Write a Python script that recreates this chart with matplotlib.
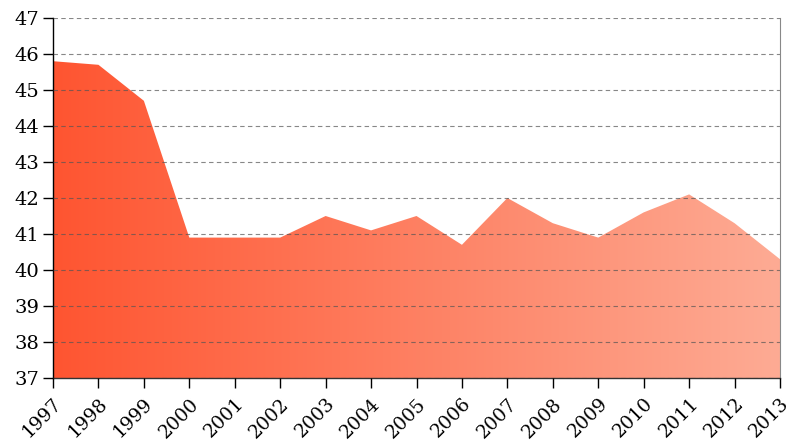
import matplotlib
matplotlib.use("Agg")
import matplotlib.pyplot as plt
import numpy as np
from matplotlib.colors import LinearSegmentedColormap

years = [1997, 1998, 1999, 2000, 2001, 2002, 2003, 2004, 2005,
         2006, 2007, 2008, 2009, 2010, 2011, 2012, 2013]
values = [45.8, 45.7, 44.7, 40.9, 40.9, 40.9, 41.5, 41.1, 41.5,
          40.7, 42.0, 41.3, 40.9, 41.6, 42.1, 41.3, 40.3]
y_ticks = list(range(37, 48))

plt.rcParams['font.family'] = ['DejaVu Serif']

fig = plt.figure(figsize=(7.86, 4.48), dpi=100)
ax = fig.add_axes([53 / 786, 70 / 448, 727 / 786, 360 / 448])

ymin, ymax = 37, 47
poly = ax.fill_between(years, values, ymin, color='none', lw=0)

cmap = LinearSegmentedColormap.from_list('grad', ['#ff5531', '#fdab94'])
grad = np.linspace(0, 1, 256).reshape(1, -1)
img = ax.imshow(grad, cmap=cmap, aspect='auto',
                extent=[years[0], years[-1], ymin, ymax], zorder=1)
path = poly.get_paths()[0]
img.set_clip_path(path, transform=ax.transData)

ax.set_xlim(years[0], years[-1])
ax.set_ylim(ymin, ymax)
ax.set_yticks(y_ticks)
ax.set_xticks(years)
ax.set_xticklabels([str(y) for y in years], rotation=45, ha='right',
                   rotation_mode='anchor')
ax.yaxis.grid(True, linestyle=(0, (4, 3)), color='#555555', lw=0.8, alpha=0.7)
ax.set_axisbelow(False)
for gl in ax.get_ygridlines():
    gl.set_zorder(3)

ax.spines['top'].set_visible(False)
ax.spines['right'].set_color('#888888')
ax.spines['right'].set_linewidth(0.8)
ax.spines['left'].set_linewidth(1.0)
ax.spines['bottom'].set_linewidth(1.0)
ax.spines['bottom'].set_color('#333333')
ax.tick_params(axis='both', length=7, width=1, labelsize=14, direction='out')
ax.tick_params(axis='y', pad=3)
ax.tick_params(axis='x', pad=5, labelsize=13.5)

fig.savefig('out.png', dpi=100)
